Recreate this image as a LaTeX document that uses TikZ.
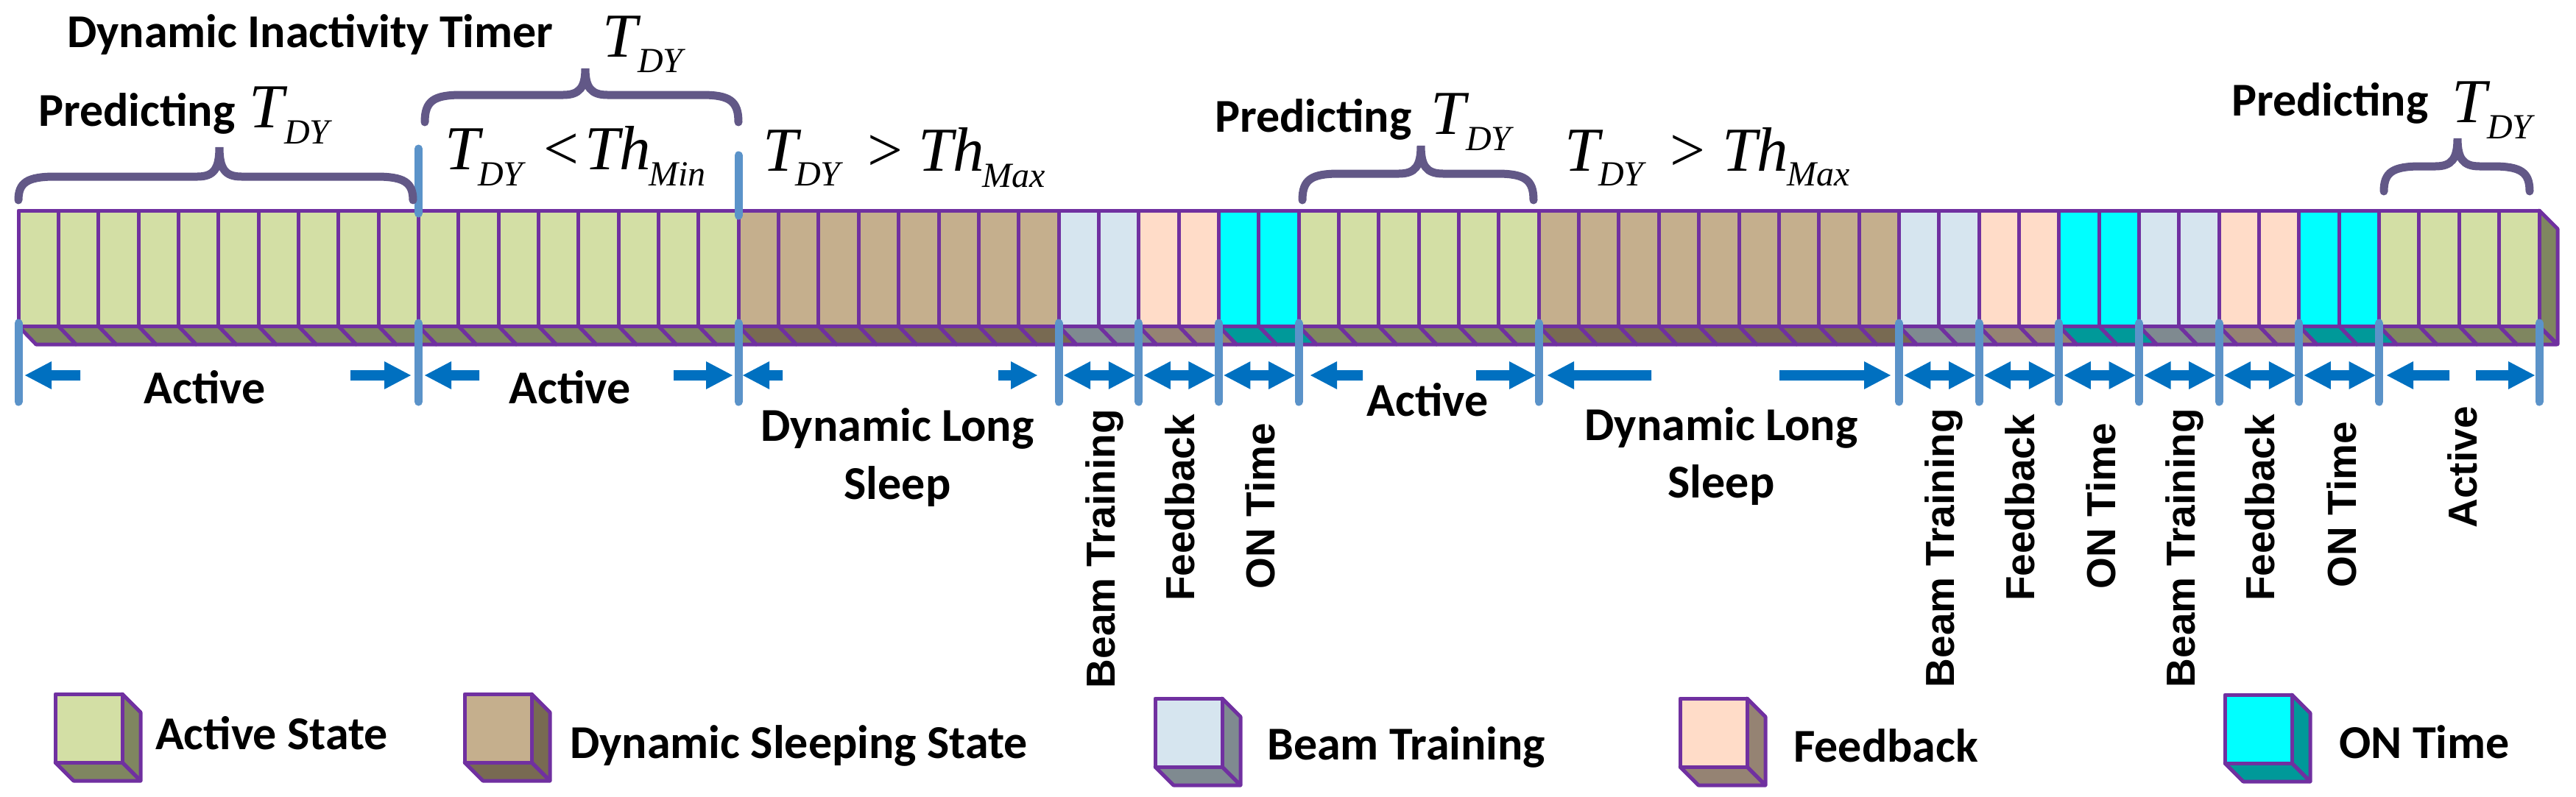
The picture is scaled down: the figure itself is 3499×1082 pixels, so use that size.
\documentclass[tikz,border=0pt]{standalone}
\usepackage{fontspec}
\setmainfont{Carlito}
\newfontfamily\arialb{Liberation Sans}
\newfontfamily\tnr{Liberation Serif}
\definecolor{Fact}{HTML}{D3DFA5}
\definecolor{Bact}{HTML}{7F8660}
\definecolor{Fslp}{HTML}{C5AF8D}
\definecolor{Bslp}{HTML}{786A52}
\definecolor{Fbt}{HTML}{D6E5EF}
\definecolor{Bbt}{HTML}{7F8A90}
\definecolor{Ffb}{HTML}{FFDCC8}
\definecolor{Bfb}{HTML}{958373}
\definecolor{Fon}{HTML}{00FFFF}
\definecolor{Bon}{HTML}{009999}
\definecolor{purp}{HTML}{7030A0}
\definecolor{mkcol}{HTML}{5B93C9}
\definecolor{arrc}{HTML}{0070C0}
\definecolor{brc}{HTML}{625887}
\tikzset{
  bar/.style={draw=purp, line width=5pt, line join=round},
  mkline/.style={draw=mkcol, line width=11pt, line cap=round},
  brline/.style={draw=brc, line width=11pt, line cap=round},
  lbl/.style={inner sep=0pt, font=\bfseries\fontsize{64}{77}\selectfont},
  rlbl/.style={inner sep=0pt, font=\arialb\bfseries\fontsize{55}{66}\selectfont, rotate=90, anchor=base east},
  bigT/.style={inner sep=0pt, font=\tnr\itshape\fontsize{85}{100}\selectfont, anchor=base west},
  subT/.style={inner sep=0pt, font=\tnr\itshape\fontsize{48}{58}\selectfont, anchor=base west},
  rel/.style={inner sep=0pt, font=\tnr\fontsize{85}{100}\selectfont, anchor=base west},
}
\newcommand\Larr[2]{\fill[arrc] (#1,510) -- ({#1+36},491) -- ({#1+36},503) -- (#2,503) -- (#2,517) -- ({#1+36},517) -- ({#1+36},529) -- cycle;}
\newcommand\Rarr[2]{\fill[arrc] (#1,510) -- ({#1-36},491) -- ({#1-36},503) -- (#2,503) -- (#2,517) -- ({#1-36},517) -- ({#1-36},529) -- cycle;}
\newcommand\Darr[2]{\fill[arrc] (#1,510) -- ({#1+36},491) -- ({#1+36},503) -- ({#2-36},503) -- ({#2-36},491) -- (#2,510) -- ({#2-36},529) -- ({#2-36},517) -- ({#1+36},517) -- ({#1+36},529) -- cycle;}
\newcommand\brc[6]{\draw[brline] (#1,#3) .. controls (#1,{#4+8}) and ({#1+12},#4) .. ({#1+50},#4) -- ({#5-30},#4) .. controls ({#5-8},#4) and (#5,{#4-10}) .. (#5,#6) .. controls (#5,{#4-10}) and ({#5+8},#4) .. ({#5+30},#4) -- ({#2-50},#4) .. controls ({#2-12},#4) and (#2,{#4+8}) .. (#2,#3);}
\newcommand\legbox[3]{%
\filldraw[bar, fill=B#3] ({#1+91},#2) -- ({#1+116},{#2+25}) -- ({#1+116},{#2+118}) -- ({#1+91},{#2+93}) -- cycle;
\filldraw[bar, fill=B#3] (#1,{#2+93}) -- ({#1+91},{#2+93}) -- ({#1+116},{#2+118}) -- ({#1+25},{#2+118}) -- cycle;
\filldraw[bar, fill=F#3] (#1,#2) rectangle ({#1+91},{#2+93});}
\begin{document}
\begin{tikzpicture}[x=1pt,y=-1pt]
\useasboundingbox (0,0) rectangle (3499,1082);
% bottom faces
\foreach \a/\cnt/\ty in {0/10/act,10/8/act,18/8/slp,26/2/bt,28/2/fb,30/2/on,32/6/act,38/9/slp,47/2/bt,49/2/fb,51/2/on,53/2/bt,55/2/fb,57/2/on,59/4/act}{
  \foreach \k in {1,...,\cnt}{
    \pgfmathsetmacro\xa{25+(\a+\k-1)*54.349}
    \pgfmathsetmacro\xb{\xa+54.349}
    \filldraw[bar, fill=B\ty] (\xa,443) -- (\xb,443) -- ({\xb+24},468) -- ({\xa+24},468) -- cycle;
  }
}
% right face
\filldraw[bar, fill=Bact] (3449,286) -- (3474,311) -- (3474,468) -- (3449,443) -- cycle;
% front faces
\foreach \a/\cnt/\ty in {0/10/act,10/8/act,18/8/slp,26/2/bt,28/2/fb,30/2/on,32/6/act,38/9/slp,47/2/bt,49/2/fb,51/2/on,53/2/bt,55/2/fb,57/2/on,59/4/act}{
  \foreach \k in {1,...,\cnt}{
    \pgfmathsetmacro\xa{25+(\a+\k-1)*54.349}
    \pgfmathsetmacro\xb{\xa+54.349}
    \filldraw[bar, fill=F\ty] (\xa,286) rectangle (\xb,443);
  }
}
% markers
\foreach \i in {0,10,18,26,28,30,32,38,47,49,51,53,55,57,59,63}{
  \pgfmathsetmacro\xm{25+\i*54.349}
  \draw[mkline] (\xm,439) -- (\xm,546);
}
\draw[mkline] (568.49,202) -- (568.49,290);
\draw[mkline] (1003.28,211) -- (1003.28,293);
% arrows
\Larr{34}{109}\Rarr{558}{476}
\Larr{577}{651}\Rarr{995}{915}
\Larr{1009}{1063}\Rarr{1409}{1356}
\Larr{1780}{1851}\Rarr{2086}{2005}
\Larr{2102}{2243}\Rarr{2568}{2417}
\Larr{3242}{3327}\Rarr{3443}{3363}
\foreach \l/\r in {1438.07/1546.77,1546.77/1655.47,1655.47/1764.17,2579.40/2688.10,2688.10/2796.80,2796.80/2905.50,2905.50/3014.20,3014.20/3122.89,3122.89/3231.59}{
  \Darr{\l+7}{\r-5}
}
% braces
\brc{25}{561}{272}{240}{298}{200}
\brc{577}{1003}{166}{129}{795}{93}
\brc{1769}{2083}{272}{236}{1930}{198}
\brc{3238}{3436}{260}{226}{3338}{188}
% top texts
\node[lbl, anchor=base west] (dit) at (91,64) {Dynamic Inactivity Timer};
\node[bigT] (t0) at (818,77) {T};
\node[subT] (s0) at (866,98) {DY};
\node[lbl, anchor=base west] (p1) at (52,171) {Predicting};
\node[bigT] (p1T) at (338,173) {T};
\node[subT] (p1s) at (386,195) {DY};
\node[bigT] (c1T) at (604,230) {T};
\node[subT] (c1s) at (649,252) {DY};
\node[rel] (c1r) at (738,230) {<};
\node[bigT] (c1h) at (794,230) {Th};
\node[subT] (c1m) at (881,252) {Min};
\node[bigT] (c2T) at (1036,232) {T};
\node[subT] (c2s) at (1080,252) {DY};
\node[rel] (c2r) at (1178,232) {>};
\node[bigT] (c2h) at (1247,232) {Th};
\node[subT] (c2m) at (1334,254) {Max};
\node[lbl, anchor=base west] (p2) at (1650,179) {Predicting};
\node[bigT] (p2T) at (1943,182) {T};
\node[subT] (p2s) at (1991,204) {DY};
\node[bigT] (c3T) at (2125,232) {T};
\node[subT] (c3s) at (2171,252) {DY};
\node[rel] (c3r) at (2268,232) {>};
\node[bigT] (c3h) at (2339,232) {Th};
\node[subT] (c3m) at (2427,252) {Max};
\node[lbl, anchor=base west] (p3) at (3031,157) {Predicting};
\node[bigT] (p3T) at (3330,166) {T};
\node[subT] (p3s) at (3378,188) {DY};
% section labels
\node[lbl, anchor=base] (a1) at (278,548) {Active};
\node[lbl, anchor=base] (a2) at (774,548) {Active};
\node[lbl, anchor=base] (d1a) at (1219,599) {Dynamic Long};
\node[lbl, anchor=base] (d1b) at (1219,678) {Sleep};
\node[lbl, anchor=base] (a3) at (1939,565) {Active};
\node[lbl, anchor=base] (d2a) at (2338,598) {Dynamic Long};
\node[lbl, anchor=base] (d2b) at (2338,676) {Sleep};
\node[rlbl] (r1) at (1514,556) {Beam Training};
\node[rlbl] (r2) at (1622,563) {Feedback};
\node[rlbl] (r3) at (1731,575) {ON Time};
\node[rlbl] (r4) at (2654,555) {Beam Training};
\node[rlbl] (r5) at (2763,563) {Feedback};
\node[rlbl] (r6) at (2873,575) {ON Time};
\node[rlbl] (r7) at (2981,555) {Beam Training};
\node[rlbl] (r8) at (3089,563) {Feedback};
\node[rlbl] (r9) at (3200,573) {ON Time};
\node[rlbl] (r10) at (3364,552) {Active};
% legend
\legbox{75}{943}{act}
\legbox{631}{943}{slp}
\legbox{1569}{949}{bt}
\legbox{2282}{949}{fb}
\legbox{3022}{944}{on}
\node[lbl, anchor=base west] (l1) at (211,1018) {Active State};
\node[lbl, anchor=base west] (l2) at (774,1030) {Dynamic Sleeping State};
\node[lbl, anchor=base west] (l3) at (1721,1032) {Beam Training};
\node[lbl, anchor=base west] (l4) at (2436,1035) {Feedback};
\node[lbl, anchor=base west] (l5) at (3177,1030) {ON Time};
\end{tikzpicture}
\end{document}
